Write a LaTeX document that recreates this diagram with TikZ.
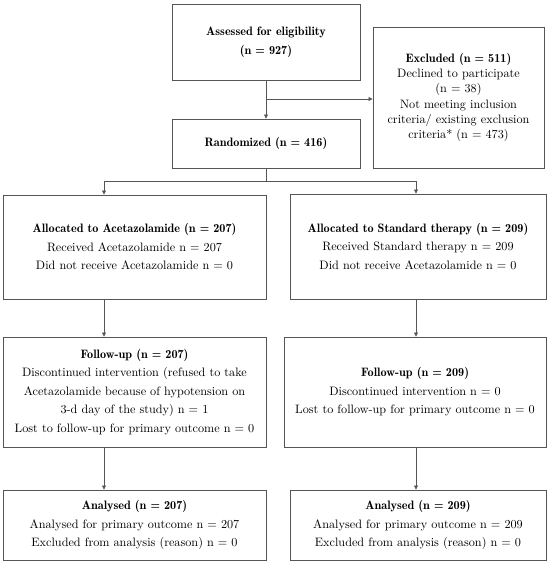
\documentclass[tikz,border=0pt]{standalone}
\usepackage{fontspec}
\setmainfont{lmroman10-regular.otf}[BoldFont=lmromandemi10-regular.otf]
\usetikzlibrary{arrows.meta}
\definecolor{edge}{HTML}{555555}
\tikzset{
  box/.style={draw=edge, line width=0.9pt, inner sep=0pt, align=center, text=black,
    font=\fontsize{12.2}{18.5}\selectfont},
  conn/.style={draw=edge, line width=0.7pt},
  arr/.style={conn, -{Triangle[length=4pt,width=4pt]}},
}
\begin{document}
\begin{tikzpicture}[x=1pt,y=-1pt]
\useasboundingbox (0,0) rectangle (550,564);
% boxes: centre = ((x1+x2)/2,(y1+y2)/2)
\node[box, minimum width=188pt, minimum height=76pt, font=\fontsize{12.2}{19}\selectfont\bfseries] (assess) at (266,42)
  {Assessed for eligibility\\(n = 927)};
\node[box, minimum width=171pt, minimum height=141pt, font=\fontsize{12.2}{15.2}\selectfont] (excl) at (458.5,97.5)
  {\textbf{Excluded (n = 511)}\\Declined to participate\\(n = 38)\\Not meeting inclusion\\criteria/ existing exclusion\\criteria* (n = 473)};
\node[box, minimum width=188pt, minimum height=49pt, font=\fontsize{12.2}{18.5}\selectfont\bfseries] (rand) at (266,143.5)
  {Randomized (n = 416)};
\node[box, minimum width=263pt, minimum height=104pt] (allocA) at (134.5,247)
  {\textbf{Allocated to Acetazolamide (n = 207)}\\Received Acetazolamide n = 207\\Did not receive Acetazolamide n = 0};
\node[box, minimum width=256pt, minimum height=105pt] (allocS) at (418,246.5)
  {\textbf{Allocated to Standard therapy (n = 209)}\\Received Standard therapy n = 209\\Did not receive Acetazolamide n = 0};
\node[box, minimum width=263pt, minimum height=110pt] (fuA) at (134.5,392)
  {\textbf{Follow-up (n = 207)}\\Discontinued intervention (refused to take\\Acetazolamide because of hypotension on\\3-d day of the study) n = 1\\Lost to follow-up for primary outcome n = 0};
\node[box, minimum width=262pt, minimum height=110pt] (fuS) at (415,392)
  {\textbf{Follow-up (n = 209)}\\Discontinued intervention n = 0\\Lost to follow-up for primary outcome n = 0};
\node[box, minimum width=263pt, minimum height=70pt] (anA) at (134.5,525)
  {\textbf{Analysed (n = 207)}\\Analysed for primary outcome n = 207\\Excluded from analysis (reason) n = 0};
\node[box, minimum width=256pt, minimum height=70pt] (anS) at (418,525)
  {\textbf{Analysed (n = 209)}\\Analysed for primary outcome n = 209\\Excluded from analysis (reason) n = 0};
% connectors
\coordinate (branch) at (266,99);
\coordinate (split) at (266,181);
\coordinate (splitL) at (104,181);
\coordinate (splitR) at (416,181);
\draw[arr] (assess.south) -- (rand.north);
\draw[arr] (branch) -- (branch -| excl.west);
\draw[conn] (rand.south) -- (split);
\draw[arr] (split) -- (splitL) -- (splitL |- allocA.north);
\draw[arr] (split) -- (splitR) -- (splitR |- allocS.north);
\draw[arr] (splitL |- allocA.south) -- (splitL |- fuA.north);
\draw[arr] (splitR |- allocS.south) -- (splitR |- fuS.north);
\draw[arr] (splitL |- fuA.south) -- (splitL |- anA.north);
\draw[arr] (splitR |- fuS.south) -- (splitR |- anS.north);
\end{tikzpicture}
\end{document}
